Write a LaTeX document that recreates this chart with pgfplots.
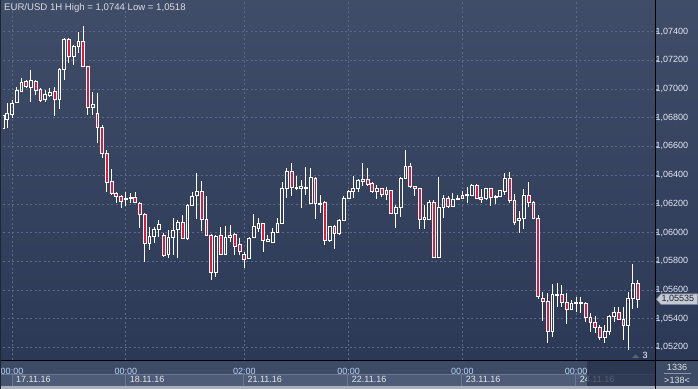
\documentclass[border=0pt]{standalone}
\usepackage{pgfplots}
\pgfplotsset{compat=1.18}
\usepackage{pgfplotstable}
\usepackage{fontspec}
\setmainfont{Liberation Sans}
\definecolor{bgtop}{HTML}{404D69}
\definecolor{bgbot}{HTML}{2C3956}
\definecolor{panel}{HTML}{3E4B66}
\definecolor{gridc}{HTML}{5C6A87}
\definecolor{candred}{HTML}{E3173A}
\definecolor{ticklab}{HTML}{E3EAF4}
\definecolor{timelab}{HTML}{B8D4F4}
\definecolor{daterow}{HTML}{47546F}
\definecolor{datebox}{HTML}{4F5C77}
\definecolor{dateedge}{HTML}{6A7792}
\definecolor{tickblue}{HTML}{7FA8E0}
\definecolor{titlec}{HTML}{D7DBE2}
\definecolor{strip}{HTML}{A9B1C0}
\definecolor{datetext}{HTML}{E2E6EC}
\definecolor{ovl}{HTML}{26314C}
\definecolor{leftedge}{HTML}{1E2636}
\definecolor{tagfill}{HTML}{C6CAD2}
\definecolor{tagedge}{HTML}{8A92A2}
\definecolor{tagtext}{HTML}{1A2236}
\definecolor{markc}{HTML}{5D6679}
\definecolor{boxtext}{HTML}{E0E4EA}
\definecolor{sepline}{HTML}{8A96AA}

% hourly EUR/USD candles: k = bar number, O H L C
\pgfplotstableread{
k O H L C
0 1.06729 1.06833 1.06715 1.06819
1 1.06785 1.06903 1.06729 1.06833
2 1.06826 1.06924 1.06798 1.06903
3 1.06910 1.07014 1.06903 1.06994
4 1.06987 1.07077 1.06980 1.07049
5 1.07056 1.07063 1.07007 1.07021
6 1.07014 1.07133 1.06910 1.07063
7 1.07056 1.07063 1.06959 1.06994
8 1.07000 1.07007 1.06910 1.06924
9 1.06931 1.06994 1.06910 1.06966
10 1.06959 1.07007 1.06945 1.06980
11 1.06987 1.07014 1.06812 1.06931
12 1.06931 1.07147 1.06861 1.07140
13 1.07140 1.07356 1.07063 1.07349
14 1.07349 1.07356 1.07182 1.07231
15 1.07231 1.07308 1.07168 1.07294
16 1.07294 1.07398 1.07252 1.07335
17 1.07335 1.07440 1.07154 1.07161
18 1.07161 1.07161 1.06819 1.06875
19 1.06875 1.06980 1.06819 1.06896
20 1.06833 1.06973 1.06624 1.06736
21 1.06736 1.06750 1.06520 1.06554
22 1.06554 1.06575 1.06283 1.06352
23 1.06359 1.06443 1.06262 1.06276
24 1.06276 1.06283 1.06206 1.06255
25 1.06255 1.06262 1.06171 1.06220
26 1.06234 1.06283 1.06185 1.06241
27 1.06241 1.06276 1.06206 1.06248
28 1.06248 1.06283 1.06206 1.06213
29 1.06206 1.06213 1.06032 1.06129
30 1.06129 1.06136 1.05795 1.05927
31 1.05927 1.06039 1.05878 1.05976
32 1.05976 1.06039 1.05927 1.06025
33 1.06025 1.06087 1.05969 1.06053
34 1.05983 1.05997 1.05829 1.05843
35 1.05850 1.06018 1.05822 1.05969
36 1.05969 1.06101 1.05843 1.06018
37 1.06025 1.06087 1.05822 1.06073
38 1.06073 1.06122 1.05962 1.05962
39 1.05962 1.06199 1.05948 1.06192
40 1.06192 1.06283 1.06185 1.06255
41 1.06262 1.06415 1.06094 1.06283
42 1.06283 1.06359 1.06011 1.06094
43 1.06094 1.06255 1.05976 1.05983
44 1.05983 1.05990 1.05669 1.05725
45 1.05725 1.05983 1.05690 1.05976
46 1.05983 1.06039 1.05843 1.05850
47 1.05850 1.06046 1.05843 1.05969
48 1.05969 1.06053 1.05934 1.05983
49 1.05990 1.05997 1.05843 1.05906
50 1.05920 1.05962 1.05843 1.05871
51 1.05850 1.05864 1.05753 1.05815
52 1.05822 1.05969 1.05822 1.05962
53 1.05969 1.06129 1.05969 1.06039
54 1.06032 1.06101 1.06004 1.06060
55 1.06060 1.06067 1.05864 1.05948
56 1.05941 1.05983 1.05934 1.05955
57 1.05934 1.06032 1.05927 1.06004
58 1.06004 1.06101 1.05997 1.06066
59 1.06066 1.06352 1.06059 1.06304
60 1.06304 1.06450 1.06241 1.06429
61 1.06429 1.06485 1.06255 1.06311
62 1.06304 1.06394 1.06297 1.06311
63 1.06304 1.06366 1.06171 1.06318
64 1.06304 1.06457 1.06262 1.06311
65 1.06206 1.06450 1.06199 1.06387
66 1.06380 1.06387 1.06094 1.06206
67 1.06199 1.06262 1.06136 1.06206
68 1.06213 1.06220 1.05913 1.05948
69 1.05948 1.06046 1.05934 1.06039
70 1.06039 1.06053 1.05885 1.05997
71 1.05997 1.06094 1.05983 1.06087
72 1.06087 1.06255 1.06080 1.06241
73 1.06241 1.06297 1.06234 1.06283
74 1.06283 1.06394 1.06241 1.06304
75 1.06304 1.06373 1.06283 1.06366
76 1.06359 1.06485 1.06325 1.06373
77 1.06373 1.06450 1.06325 1.06338
78 1.06345 1.06352 1.06276 1.06283
79 1.06283 1.06331 1.06234 1.06304
80 1.06304 1.06311 1.06248 1.06269
81 1.06290 1.06318 1.06227 1.06269
82 1.06290 1.06297 1.06129 1.06136
83 1.06136 1.06192 1.06032 1.06178
84 1.06178 1.06387 1.06108 1.06380
85 1.06380 1.06575 1.06373 1.06464
86 1.06464 1.06485 1.06311 1.06318
87 1.06318 1.06325 1.06255 1.06304
88 1.06304 1.06311 1.06025 1.06094
89 1.06094 1.06192 1.06025 1.06108
90 1.06094 1.06227 1.06087 1.06213
91 1.06213 1.06227 1.05822 1.05829
92 1.05829 1.06387 1.05822 1.06178
93 1.06178 1.06262 1.06101 1.06241
94 1.06241 1.06255 1.06171 1.06185
95 1.06185 1.06276 1.06178 1.06234
96 1.06234 1.06262 1.06227 1.06241
97 1.06241 1.06290 1.06234 1.06262
98 1.06262 1.06318 1.06206 1.06269
99 1.06262 1.06338 1.06255 1.06325
100 1.06325 1.06338 1.06234 1.06241
101 1.06248 1.06304 1.06206 1.06234
102 1.06241 1.06311 1.06227 1.06304
103 1.06304 1.06311 1.06185 1.06248
104 1.06248 1.06262 1.06199 1.06255
105 1.06255 1.06297 1.06248 1.06290
106 1.06283 1.06415 1.06262 1.06380
107 1.06380 1.06422 1.06206 1.06227
108 1.06227 1.06269 1.06053 1.06073
109 1.06087 1.06150 1.05997 1.06101
110 1.06101 1.06304 1.06025 1.06262
111 1.06262 1.06352 1.06178 1.06213
112 1.06213 1.06220 1.06094 1.06101
113 1.06101 1.06122 1.05537 1.05551
114 1.05537 1.05585 1.05383 1.05523
115 1.05523 1.05578 1.05230 1.05307
116 1.05307 1.05641 1.05272 1.05565
117 1.05558 1.05648 1.05481 1.05565
118 1.05565 1.05634 1.05481 1.05516
119 1.05516 1.05578 1.05362 1.05467
120 1.05467 1.05530 1.05460 1.05509
121 1.05509 1.05551 1.05446 1.05516
122 1.05516 1.05551 1.05439 1.05509
123 1.05509 1.05516 1.05376 1.05411
124 1.05411 1.05439 1.05307 1.05376
125 1.05376 1.05418 1.05300 1.05335
126 1.05335 1.05356 1.05251 1.05272
127 1.05272 1.05356 1.05230 1.05307
128 1.05307 1.05425 1.05286 1.05418
129 1.05418 1.05481 1.05376 1.05446
130 1.05446 1.05481 1.05390 1.05397
131 1.05397 1.05481 1.05251 1.05349
132 1.05349 1.05585 1.05181 1.05537
133 1.05537 1.05781 1.05467 1.05648
134 1.05648 1.05669 1.05474 1.05535
}\candles

\pgfplotsset{
  common/.style={
    at={(0,0)}, anchor=south west,
    scale only axis, width=652bp, height=358bp,
    xmin=0.1, xmax=137.65, ymin=0.00111, ymax=0.02607,
    scaled y ticks=false, scaled x ticks=false,
  },
  wick/.style={draw=none, mark=none, forget plot,
    error bars/.cd, y dir=plus, y explicit, error mark=none,
    error bar style={draw=white, line width=1bp}},
}

\begin{document}
\begin{tikzpicture}
\useasboundingbox (-3bp,-29bp) rectangle (695bp,360bp);
\clip (-3bp,-29bp) rectangle (695bp,360bp);
% backgrounds
\fill[panel] (-3bp,-29bp) rectangle (695bp,360bp);
\shade[top color=bgtop, bottom color=bgbot] (-3bp,0bp) rectangle (695bp,360bp);
% date row
\fill[daterow] (-3bp,-14.3bp) rectangle (652bp,-26bp);
\foreach \a/\b in {9/122.7,122.7/240.3,240.3/344.7,344.7/458.7,458.7/572.7,572.7/652}{
  \fill[datebox] (\a bp,-14.3bp) rectangle (\b bp,-26bp);
  \draw[dateedge, line width=0.6bp] (\a bp,-14.3bp) -- (\a bp,-26bp);
}
\draw[dateedge, line width=0.6bp] (-3bp,-14.3bp) -- (652bp,-14.3bp);
\fill[strip] (-3bp,-26bp) rectangle (695bp,-29bp);
\foreach \x/\t in {13/17.11.16,126.7/18.11.16,244.3/21.11.16,348.7/22.11.16,462.7/23.11.16,576.7/24.11.16}{
  \node[anchor=west, inner sep=0pt, text=datetext, font=\fontsize{9bp}{10bp}\selectfont] at (\x bp,-19.6bp) {\t};
}

\begin{axis}[common,
  axis line style={draw=none},
  tick align=outside, major tick length=3bp,
  xtick={2,26,51,73,97,121},
  xticklabels={00:00,00:00,02:00,00:00,00:00,00:00},
  xtick style={draw=none},
  xticklabel style={anchor=center, yshift=-8.3bp, text=timelab, font=\fontsize{9bp}{10bp}\selectfont},
  ytick={0.002,0.004,0.006,0.008,0.010,0.012,0.014,0.016,0.018,0.020,0.022,0.024},
  yticklabels={{1,05200},{1,05400},{1,05600},{1,05800},{1,06000},{1,06200},{1,06400},{1,06600},{1,06800},{1,07000},{1,07200},{1,07400}},
  ytick pos=right, yticklabel pos=right,
  ytick style={draw=tickblue, line width=0.8bp},
  yticklabel style={anchor=west, inner sep=0pt, xshift=-2.7bp, text=ticklab, font=\fontsize{9bp}{10bp}\selectfont},
  grid=major,
  major grid style={gridc, line width=0.6bp, dash pattern=on 2bp off 2.5bp},
]
% lower wicks
\addplot[wick]
  table[x=k, y expr={\thisrow{L}-1.05}, y error expr={min(\thisrow{O},\thisrow{C})-\thisrow{L}}] {\candles};
% upper wicks
\addplot[wick]
  table[x=k, y expr={max(\thisrow{O},\thisrow{C})-1.05}, y error expr={\thisrow{H}-max(\thisrow{O},\thisrow{C})}] {\candles};
\end{axis}

\begin{axis}[common, hide axis, ybar stacked, bar width=2.8bp]
\addplot[draw=none, fill=none] table[x=k, y expr={min(\thisrow{O},\thisrow{C})-1.05}] {\candles};
\addplot[draw=white, fill=none, line width=0.8bp] table[x=k, y expr={max(\thisrow{C}-\thisrow{O},0)}] {\candles};
\addplot[draw=white, fill=candred, line width=0.8bp] table[x=k, y expr={max(\thisrow{O}-\thisrow{C},0)}] {\candles};
\end{axis}

% frame lines
\fill[ovl, opacity=0.75] (583.7bp,0bp) rectangle (652bp,-26bp);
\draw[black, line width=1bp] (652bp,-29bp) -- (652bp,360bp);
\draw[black, line width=1bp] (-3bp,0bp) -- (695bp,0bp);
\draw[leftedge, line width=1bp] (-2.5bp,-29bp) -- (-2.5bp,360bp);
% title
\node[anchor=base west, inner sep=0pt, text=titlec, font=\fontsize{9.6bp}{11bp}\selectfont] at (1bp,349bp) {EUR/USD 1H High = 1,0744 Low = 1,0518};
% current price tag
\filldraw[fill=tagfill, draw=tagedge, line width=0.5bp] (653.5bp,60.8bp) -- (658bp,66bp) -- (694.5bp,66bp) -- (694.5bp,55.5bp) -- (658bp,55.5bp) -- cycle;
\node[anchor=west, inner sep=0pt, text=tagtext, font=\fontsize{9bp}{10bp}\selectfont] at (658.3bp,60.8bp) {1,05535};
% marker
\fill[markc] (629bp,2bp) -- (636bp,2bp) -- (632.5bp,5.5bp) -- cycle;
\node[anchor=center, inner sep=0pt, text=white, font=\fontsize{9bp}{10bp}\selectfont] at (642bp,4.5bp) {3};
% bottom-right box
\node[anchor=center, inner sep=0pt, text=boxtext, font=\fontsize{9bp}{10bp}\selectfont] at (674bp,-7bp) {1336};
\draw[sepline, line width=0.6bp] (661bp,-13.5bp) -- (688bp,-13.5bp);
\node[anchor=center, inner sep=0pt, text=boxtext, font=\fontsize{9bp}{10bp}\selectfont] at (674bp,-20.5bp) {>138<};
\end{tikzpicture}
\end{document}
